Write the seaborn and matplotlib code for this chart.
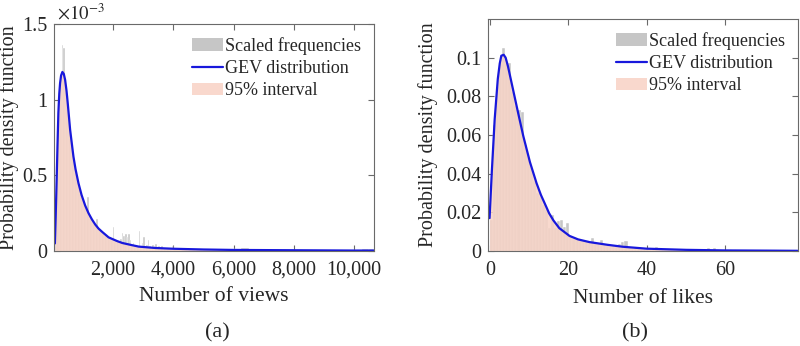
import numpy as np
import pandas as pd
import matplotlib
matplotlib.use('Agg')
import matplotlib.pyplot as plt
import seaborn as sns
from matplotlib.patches import Patch
from matplotlib.lines import Line2D
from matplotlib.ticker import FuncFormatter

# ---------------- (a) number of views, pdf in units of 1e-3 ----------------
VIEWS_START, VIEWS_BINW, VIEWS_TAIL_BINW, VIEWS_END = 50, 50, 250, 10650
views_hist = [0.06, 0.40, 0.78, 1.02, 1.15, 1.36, 1.34, 1.10, 1.00, 0.92,
              0.80, 0.72, 0.64, 0.57, 0.52, 0.47, 0.43, 0.39, 0.35, 0.33,
              0.30, 0.27, 0.36, 0.24, 0.22, 0.20, 0.18, 0.17, 0.21, 0.15,
              0.13, 0.12, 0.11, 0.10, 0.10, 0.09, 0.08, 0.09, 0.07, 0.16,
              0.06, 0.05, 0.06, 0.05, 0.08, 0.12, 0.10, 0.11, 0.09, 0.11,
              0.07, 0.04, 0.05, 0.03, 0.04, 0.03, 0.13, 0.03, 0.05, 0.09,
              0.03, 0.04, 0.07, 0.03, 0.02, 0.04, 0.03, 0.045, 0.02, 0.035,
              0.02, 0.03, 0.01, 0.02, 0.015, 0.02, 0.01, 0.015, 0.03]
views_tail = [0.013, 0.012, 0.011, 0.010, 0.009, 0.009, 0.008, 0.008, 0.012,
              0.020, 0.007, 0.006, 0.006, 0.005, 0.005, 0.005, 0.004, 0.004,
              0.004, 0.004, 0.003, 0.003, 0.003, 0.003, 0.008, 0.010, 0.012]
views_x = [75, 100, 133, 160, 190, 220, 247, 280, 323, 370, 413, 460, 500,
           540, 580, 630, 690, 760, 857, 960, 1080, 1190, 1300, 1413, 1523,
           1650, 1857, 2133, 2310, 2600, 2857, 3400, 3977, 5000, 6000, 7000,
           8000, 9000, 10000, 10650]
views_pdf = [0.05, 0.22, 0.47, 0.69, 0.914, 1.04, 1.11, 1.16, 1.183, 1.17,
             1.132, 1.06, 0.978, 0.89, 0.801, 0.72, 0.624, 0.54, 0.448, 0.37,
             0.30, 0.25, 0.21, 0.175, 0.148, 0.125, 0.09, 0.066, 0.053, 0.040,
             0.029, 0.020, 0.015, 0.010, 0.007, 0.006, 0.005, 0.004, 0.003,
             0.003]
views_ticks = [2000, 4000, 6000, 8000, 10000]

# ---------------- (b) number of likes ----------------
LIKES_BINW = 0.78
likes_hist = [0.016, 0.065, 0.085, 0.097, 0.105, 0.097, 0.097, 0.082, 0.075, 0.073,
              0.072, 0.055, 0.048, 0.043, 0.036, 0.030, 0.028, 0.024, 0.021, 0.012,
              0.0187, 0.012, 0.0155, 0.016, 0.0125, 0.0147, 0.007, 0.006, 0.006, 0.0055,
              0.005, 0.0045, 0.004, 0.0066, 0.004, 0.0035, 0.0057, 0.003, 0.0025, 0.002,
              0.002, 0.002, 0.0035, 0.0047, 0.0052, 0.0015, 0.0012, 0.0013, 0.0010, 0.0010,
              0.0008, 0.0008, 0.0006, 0.0008, 0.0022, 0.0007, 0.0006, 0.0006, 0.0005, 0.0005,
              0.0004, 0.0005, 0.0004, 0.0004, 0.0003, 0.0003, 0.0003, 0.0003, 0.0002, 0.0003,
              0.0002, 0.0015, 0.0002, 0.0015, 0.0002, 0.0002, 0.0002, 0.0001, 0.0002, 0.0001,
              0.0001, 0.0001, 0.0002, 0.0001, 0.0001, 0.0001, 0.0001, 0.0001, 0.0001, 0.0001,
              0.0001, 0.0001, 0.0001, 0.0001, 0.0001, 0.0001, 0.0001, 0.0001, 0.0001, 0.0001]
likes_x = [-0.1, 0.5, 1.2, 2.0, 2.5, 2.9, 3.5, 4.0, 4.6, 5.9, 7.2, 8.5, 10.2,
           11.9, 13.0, 14.0, 15.1, 16.2, 17.7, 20.3, 22.5, 25.4, 30, 33.9, 40,
           50, 60, 70, 78.5]
likes_pdf = [0.017, 0.042, 0.068, 0.089, 0.097, 0.1010, 0.1015, 0.1000, 0.0955,
             0.0834, 0.0713, 0.0595, 0.046, 0.035, 0.029, 0.0245, 0.0195, 0.0158,
             0.0118, 0.0078, 0.0060, 0.0046, 0.0032, 0.0022, 0.0012, 0.0006,
             0.0003, 0.0002, 0.0001]
likes_ticks = [0, 20, 40, 60]

legend_labels = ['Scaled frequencies', 'GEV distribution', '95% interval']

sns.set_theme(style='ticks')
plt.rcParams['font.family'] = ['Liberation Serif', 'DejaVu Serif']
plt.rcParams['mathtext.fontset'] = 'stix'

GREY = '#c6c6c6'
PINK = '#f7d3c6'
BLUE = '#1818dc'
AXC = '#6a6a6a'
TXT = '#262626'

fig = plt.figure(figsize=(8, 3.46), dpi=100)
ax1 = fig.add_axes([54/800, 95/346, 320/800, 227/346])
ax2 = fig.add_axes([488/800, 95/346, 310/800, 232/346])


def draw(ax, edges, heights, cx, cy):
    edges = np.asarray(edges, dtype=float)
    df = pd.DataFrame({'c': (edges[:-1] + edges[1:]) / 2, 'w': heights})
    sns.histplot(data=df, x='c', weights='w', bins=list(edges), color=GREY, alpha=1,
                 edgecolor='white', linewidth=0.3, ax=ax)
    ax.fill_between(cx, cy, color=PINK, alpha=0.85, lw=0)
    sns.lineplot(x=cx, y=cy, color=BLUE, lw=1.6, ax=ax, sort=False)


def style(ax):
    for s in ax.spines.values():
        s.set_color(AXC); s.set_linewidth(0.8)
    ax.tick_params(direction='in', length=4, width=0.8, color=AXC, top=True,
                   right=True, labelsize=14.5, labelcolor=TXT)
    ax.tick_params(axis='x', pad=7)
    ax.tick_params(axis='y', pad=5)
    ax.set_ylabel('Probability density function', fontsize=14.5, color=TXT)
    handles = [Patch(facecolor=GREY, edgecolor='none'),
               Line2D([], [], color=BLUE, lw=1.6),
               Patch(facecolor='#f9d8cd', edgecolor='none')]
    ax.legend(handles, legend_labels, loc='upper right', frameon=False, fontsize=13,
              handlelength=1.7, handletextpad=0.15, labelspacing=0.3,
              borderaxespad=0.3)


# (a)
edges_a = np.concatenate([VIEWS_START + VIEWS_BINW * np.arange(len(views_hist) + 1),
                          VIEWS_START + VIEWS_BINW * len(views_hist)
                          + VIEWS_TAIL_BINW * np.arange(1, len(views_tail) + 1)])
edges_a[-1] = min(edges_a[-1], VIEWS_END)
draw(ax1, edges_a, views_hist + views_tail, views_x, views_pdf)
ax1.set_xlim(45, 10660)
ax1.set_ylim(0, 1.5)
ax1.set_xticks(views_ticks)
ax1.xaxis.set_major_formatter(FuncFormatter(lambda v, p: f'{v:,.0f}'))
ax1.set_yticks([0, 0.5, 1, 1.5])
ax1.yaxis.set_major_formatter(FuncFormatter(lambda v, p: f'{v:g}'))
ax1.set_xlabel('Number of views', fontsize=15.5, color=TXT)
style(ax1)
ax1.text(0.01, 1.0, r'$\times10^{-3}$', transform=ax1.transAxes, ha='left',
         va='bottom', fontsize=13.5, color=TXT)
ax1.yaxis.set_label_coords(-0.11, 0.5)
ax1.xaxis.set_label_coords(0.5, -0.16)

# (b)
edges_b = LIKES_BINW * np.arange(len(likes_hist) + 1)
draw(ax2, edges_b, likes_hist, likes_x, likes_pdf)
ax2.set_xlim(-0.5, 78.6)
ax2.set_ylim(0, 0.12)
ax2.set_xticks(likes_ticks)
ax2.set_yticks([0, 0.02, 0.04, 0.06, 0.08, 0.1])
ax2.yaxis.set_major_formatter(FuncFormatter(lambda v, p: f'{v:g}'))
ax2.set_xlabel('Number of likes', fontsize=15.5, color=TXT)
style(ax2)
ax2.yaxis.set_label_coords(-0.16, 0.5)
ax2.xaxis.set_label_coords(0.5, -0.165)

fig.text(217/800, 1 - 333/346, '(a)', ha='center', va='center', fontsize=16, color=TXT)
fig.text(635/800, 1 - 333/346, '(b)', ha='center', va='center', fontsize=16, color=TXT)

fig.savefig('out.png', dpi=100)
